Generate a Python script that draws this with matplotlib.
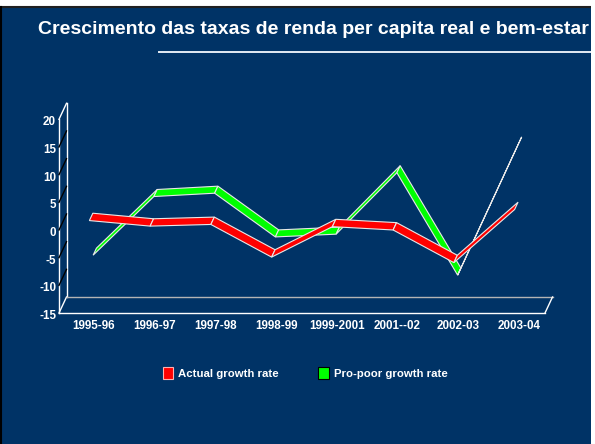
import matplotlib
matplotlib.use('Agg')
import matplotlib.pyplot as plt
from matplotlib.patches import Polygon, Rectangle, Patch
from matplotlib.lines import Line2D
from matplotlib.transforms import offset_copy
import numpy as np

plt.rcParams['font.family'] = ['Liberation Sans', 'DejaVu Sans']
plt.rcParams['font.weight'] = 'bold'

# 数据
periods = ['1995-96', '1996-97', '1997-98', '1998-99', '1999-2001', '2001--02', '2002-03', '2003-04']
actual_growth = [1.7, 0.7, 1.0, -4.9, 0.6, 0.0, -5.9, 3.7]
pro_poor_growth = [-6.0, 4.6, 5.2, -2.7, -2.2, 8.9, -9.6, 14.1]
y_ticks = [-15, -10, -5, 0, 5, 10, 15, 20]
series_names = ['Actual growth rate', 'Pro-poor growth rate']
title = 'Crescimento das taxas de renda per capita real e bem-estar'

NAVY = '#003366'
W, H = 595, 444

fig = plt.figure(figsize=(W / 100, H / 100), dpi=100)
fig.patch.set_facecolor('white')

# 背景
fig.patches.append(Rectangle((0, 0), 591 / W, 437 / H, transform=fig.transFigure,
                             facecolor=NAVY, edgecolor='none', zorder=-10))
fig.add_artist(Line2D([0, 591 / W], [437 / H, 437 / H], color='#202020', lw=1.5, zorder=-5))
fig.add_artist(Line2D([1 / W, 1 / W], [0, 437 / H], color='black', lw=1.5, zorder=-5))

# 标题
fig.text(38 / W, 1 - 33.5 / H, title, color='white', fontsize=14.0, fontweight='bold',
         ha='left', va='baseline', zorder=3)
fig.add_artist(Line2D([159 / W, 591 / W], [1 - 52 / H, 1 - 52 / H], color='#E4ECF4', lw=1.4, zorder=3))
fig.patches.append(Rectangle((591 / W, 0), 4 / W, 1, transform=fig.transFigure,
                             facecolor='white', edgecolor='none', zorder=10))

# 前平面坐标系
ax_l, ax_w = 59, 486
ax_top, ax_h = 119.3, 193.7
ax = fig.add_axes([ax_l / W, 1 - (ax_top + ax_h) / H, ax_w / W, ax_h / H])
xs = np.arange(len(periods))
ax.set_xlim(-0.5, len(periods) - 0.5)
ax.set_ylim(y_ticks[0], y_ticks[-1])
ax.axis('off')

# 深度（像素 -> 数据单位）
depth_px = (7.5, 16)
dx = depth_px[0] * (len(periods)) / ax_w
dy = depth_px[1] * (y_ticks[-1] - y_ticks[0]) / ax_h

x0, x1 = -0.5, len(periods) - 0.5
ymin, ymax = y_ticks[0], y_ticks[-1]

# 侧墙
wall_kw = dict(color='white', lw=1.0, clip_on=False)
ax.plot([x0, x0], [ymin, ymax], **wall_kw)
ax.plot([x0 + dx, x0 + dx], [ymin + dy, ymax + dy], **wall_kw)
ax.plot([x0, x0 + dx], [ymax, ymax + dy], **wall_kw)
ax.plot([x0, x0 + dx], [ymin, ymin + dy], **wall_kw)
for v in y_ticks[1:-1]:
    ax.plot([x0, x0 + dx], [v, v + dy], color='black', lw=1.0, clip_on=False)

# 底面
ax.plot([x0, x1], [ymin, ymin], **wall_kw)
ax.plot([x0 + dx, x1 + dx], [ymin + dy, ymin + dy], color='#B4B4B4', lw=1.0, clip_on=False)
ax.plot([x1, x1 + dx], [ymin, ymin + dy], **wall_kw)


def ribbon(values, d0, d1, color):
    for i in range(len(values) - 1):
        pts = [(xs[i] + d0 * dx, values[i] + d0 * dy),
               (xs[i + 1] + d0 * dx, values[i + 1] + d0 * dy),
               (xs[i + 1] + d1 * dx, values[i + 1] + d1 * dy),
               (xs[i] + d1 * dx, values[i] + d1 * dy)]
        ax.add_patch(Polygon(pts, closed=True, facecolor=color, edgecolor='#E8E8E8',
                             lw=0.8, clip_on=False, joinstyle='bevel'))


# 后排绿色，前排红色
ribbon(pro_poor_growth, 0.5, 0.94, '#00FF00')
ribbon(actual_growth, 0.0, 0.46, '#FF0000')

# 刻度标签
xlab_tr = offset_copy(ax.transData, fig=fig, x=4.5, y=-13, units='dots')
for i, p in enumerate(periods):
    ax.text(xs[i], ymin, p, transform=xlab_tr, ha='center', va='center',
            color='white', fontsize=8.4, fontweight='bold', clip_on=False)
ylab_tr = offset_copy(ax.transData, fig=fig, x=-3, y=-3, units='dots')
for v in y_ticks:
    ax.text(x0, v, str(v), transform=ylab_tr, ha='right', va='center',
            color='white', fontsize=8.4, fontweight='bold', clip_on=False)

# 图例
handles = [Patch(facecolor='#FF0000', edgecolor='#FFB0B0', lw=0.8),
           Patch(facecolor='#00FF00', edgecolor='black', lw=0.8)]
fig.legend(handles, series_names, loc='center', bbox_to_anchor=(305 / W, 1 - 373 / H),
           ncol=2, frameon=False, handlelength=0.92, handleheight=1.2,
           handletextpad=0.44, columnspacing=3.45, labelcolor='white',
           prop={'family': 'Liberation Sans', 'weight': 'bold', 'size': 8.2})

fig.savefig('out.png', dpi=100, facecolor=fig.get_facecolor())
